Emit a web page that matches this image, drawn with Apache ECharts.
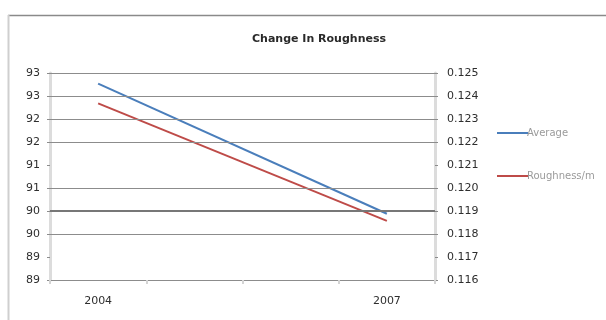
<!DOCTYPE html>
<html>
<head>
<meta charset="utf-8">
<script src="https://cdn.jsdelivr.net/npm/echarts@6/dist/echarts.min.js"></script>
<style>
  html, body { margin: 0; padding: 0; background: #fff; }
  #chart { width: 606px; height: 320px; }
</style>
</head>
<body>
<div id="chart"></div>
<script>
// Years on the category axis (only the end years carry measurements)
const years = ['2004', '', '', '2007'];
// Average roughness, left axis
const averageValues = [92.77, null, null, 89.94];
// Roughness per metre, right axis
const roughnessPerM = [0.12368, null, null, 0.11857];
// Left-axis range: 88.5 .. 93 in steps of 0.5, shown rounded to whole numbers
const leftMin = 88.5, leftMax = 93, leftStep = 0.5;
// Right-axis range
const rightMin = 0.116, rightMax = 0.125, rightStep = 0.001;
// Horizontal gridlines (left-axis values)
const gridLevels = [93, 92.5, 92, 91.5, 90.5, 89.5];
// Reference level drawn heavier across the plot
const refLevel = [90];

const labelFont = { fontFamily: 'DejaVu Sans', fontSize: 11, color: '#2e2e2e' };
const grid = '#8c8c8c';

const chart = echarts.init(document.getElementById('chart'), null, { renderer: 'canvas' });
chart.setOption({
  backgroundColor: '#ffffff',
  animation: false,
  title: {
    text: 'Change In Roughness',
    left: 247,
    top: 29,
    textStyle: { fontFamily: 'DejaVu Sans', fontSize: 11, fontWeight: 'bold', color: '#2a2a2a' }
  },
  legend: {
    orient: 'vertical',
    left: 492,
    top: 123,
    itemGap: 33,
    itemWidth: 31,
    itemHeight: 2,
    icon: 'rect',
    textStyle: { fontFamily: 'DejaVu Sans', fontSize: 10, color: '#9a9a9a', padding: [0, 0, 0, -6] }
  },
  grid: { left: 50, right: 171, top: 73, bottom: 40 },
  xAxis: {
    type: 'category',
    data: years,
    boundaryGap: true,
    axisLine: { lineStyle: { color: grid, width: 1 } },
    axisTick: { show: true, interval: 0, length: 4, lineStyle: { color: '#d4d4d4', width: 2 } },
    axisLabel: { interval: 0, margin: 16, ...labelFont }
  },
  yAxis: [
    {
      type: 'value',
      min: leftMin, max: leftMax, interval: leftStep,
      axisLine: { show: true, lineStyle: { color: '#dcdcdc', width: 3 } },
      axisTick: { show: true, length: 3, lineStyle: { color: grid } },
      axisLabel: { margin: 10, formatter: v => String(Math.round(v)), ...labelFont },
      splitLine: { show: false }
    },
    {
      type: 'value',
      min: rightMin, max: rightMax, interval: rightStep,
      position: 'right',
      axisLine: { show: true, lineStyle: { color: '#dcdcdc', width: 3 } },
      axisTick: { show: true, length: 3, lineStyle: { color: grid } },
      axisLabel: { margin: 12, formatter: v => v.toFixed(3), ...labelFont },
      splitLine: { show: false }
    }
  ],
  series: [
    {
      name: 'Average',
      type: 'line',
      yAxisIndex: 0,
      data: averageValues,
      connectNulls: true,
      showSymbol: false,
      symbol: 'none',
      lineStyle: { color: '#4a7ebb', width: 2 },
      itemStyle: { color: '#4a7ebb' },
      markLine: {
        silent: true,
        symbol: 'none',
        label: { show: false },
        animation: false,
        data: gridLevels.map(v => ({ yAxis: v, lineStyle: { color: grid, width: 1, type: 'solid' } }))
          .concat(refLevel.map(v => ({ yAxis: v, lineStyle: { color: '#777', width: 2, type: 'solid' } })))
      },
      z: 3
    },
    {
      name: 'Roughness/m',
      type: 'line',
      yAxisIndex: 1,
      data: roughnessPerM,
      connectNulls: true,
      showSymbol: false,
      symbol: 'none',
      lineStyle: { color: '#be4b48', width: 2 },
      itemStyle: { color: '#be4b48' },
      z: 2
    }
  ],
  graphic: [
    // chart-area frame: top edge and left edge
    { type: 'line', shape: { x1: 8, y1: 15.5, x2: 606, y2: 15.5 }, style: { stroke: '#8a8a8a', lineWidth: 1.5 }, silent: true },
    { type: 'line', shape: { x1: 8.5, y1: 15, x2: 8.5, y2: 320 }, style: { stroke: '#cfcfcf', lineWidth: 2 }, silent: true }
  ]
});
</script>
</body>
</html>
